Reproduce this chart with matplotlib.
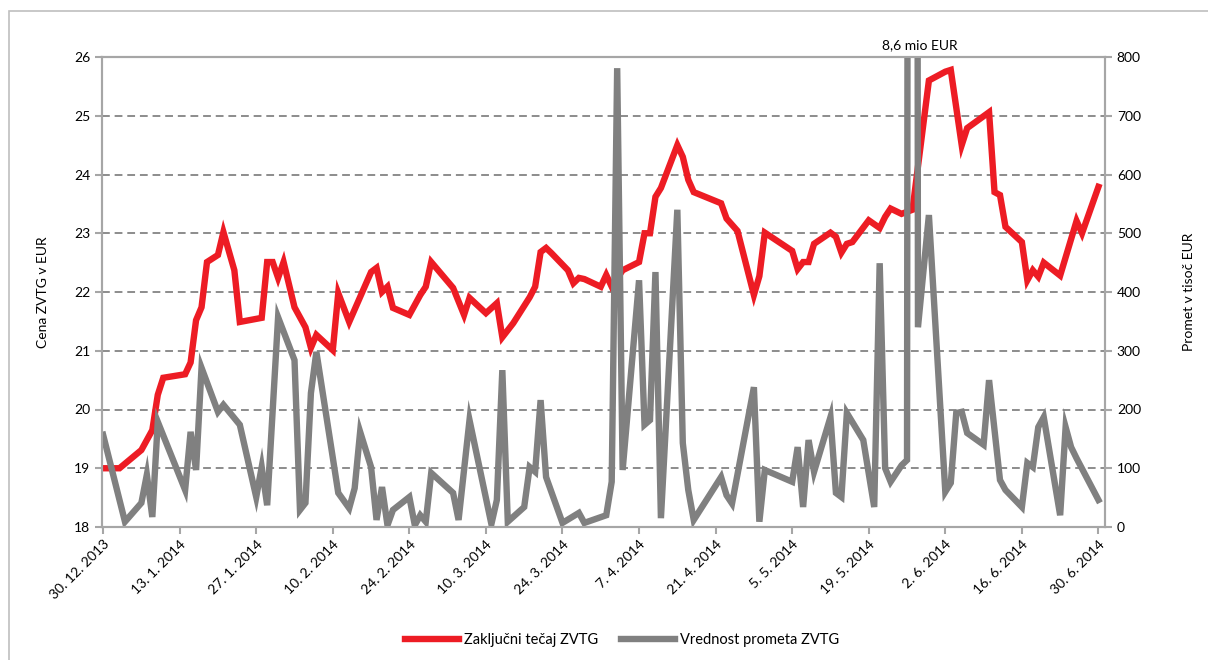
import matplotlib
matplotlib.use("Agg")
import matplotlib.pyplot as plt
from matplotlib.patches import Rectangle
import pandas as pd

plt.rcParams['font.family'] = ['Lato', 'DejaVu Sans']
plt.rcParams['font.size'] = 10

# closing price (EUR)
price_dates = [
    '2013-12-30', '2014-01-02', '2014-01-06', '2014-01-08', '2014-01-09', '2014-01-10',
    '2014-01-14', '2014-01-15', '2014-01-16', '2014-01-17', '2014-01-18', '2014-01-20',
    '2014-01-21', '2014-01-23', '2014-01-24', '2014-01-28', '2014-01-29', '2014-01-30',
    '2014-01-31', '2014-02-01', '2014-02-03', '2014-02-04', '2014-02-05', '2014-02-06',
    '2014-02-07', '2014-02-10', '2014-02-11', '2014-02-13', '2014-02-17', '2014-02-18',
    '2014-02-19', '2014-02-20', '2014-02-21', '2014-02-24', '2014-02-26', '2014-02-27',
    '2014-02-28', '2014-03-04', '2014-03-06', '2014-03-07', '2014-03-10', '2014-03-12',
    '2014-03-13', '2014-03-15', '2014-03-18', '2014-03-19', '2014-03-20', '2014-03-21',
    '2014-03-22', '2014-03-25', '2014-03-26', '2014-03-27', '2014-03-28', '2014-03-31',
    '2014-04-01', '2014-04-02', '2014-04-04', '2014-04-07', '2014-04-08', '2014-04-09',
    '2014-04-10', '2014-04-11', '2014-04-14', '2014-04-15', '2014-04-16', '2014-04-17',
    '2014-04-22', '2014-04-23', '2014-04-25', '2014-04-28', '2014-04-29', '2014-04-30',
    '2014-05-05', '2014-05-06', '2014-05-07', '2014-05-08', '2014-05-09', '2014-05-12',
    '2014-05-13', '2014-05-14', '2014-05-15', '2014-05-16', '2014-05-19', '2014-05-21',
    '2014-05-22', '2014-05-23', '2014-05-25', '2014-05-27', '2014-05-30', '2014-06-02',
    '2014-06-03', '2014-06-05', '2014-06-06', '2014-06-10', '2014-06-11', '2014-06-12',
    '2014-06-13', '2014-06-16', '2014-06-17', '2014-06-18', '2014-06-19', '2014-06-20',
    '2014-06-23', '2014-06-26', '2014-06-27', '2014-06-30',
]
price = [
    19.00, 19.00, 19.31, 19.65, 20.25, 20.54,
    20.60, 20.80, 21.52, 21.74, 22.51, 22.63,
    23.02, 22.37, 21.49, 21.56, 22.51, 22.51,
    22.24, 22.51, 21.74, 21.57, 21.40, 21.05,
    21.27, 21.01, 21.98, 21.49, 22.34, 22.41,
    22.00, 22.09, 21.73, 21.61, 21.95, 22.09,
    22.51, 22.07, 21.61, 21.90, 21.64, 21.81,
    21.23, 21.47, 21.91, 22.09, 22.68, 22.75,
    22.66, 22.37, 22.15, 22.24, 22.22, 22.09,
    22.29, 22.09, 22.37, 22.51, 23.00, 23.00,
    23.62, 23.77, 24.50, 24.30, 23.91, 23.70,
    23.51, 23.25, 23.04, 21.95, 22.27, 23.01,
    22.70, 22.39, 22.51, 22.51, 22.82, 23.01,
    22.94, 22.67, 22.82, 22.85, 23.22, 23.09,
    23.28, 23.42, 23.33, 23.40, 25.60, 25.75,
    25.78, 24.50, 24.79, 25.06, 23.70, 23.65,
    23.11, 22.85, 22.20, 22.37, 22.26, 22.50,
    22.28, 23.21, 23.00, 23.79,
]

# turnover (thousand EUR)
turnover_dates = [
    '2013-12-30', '2014-01-03', '2014-01-06', '2014-01-07', '2014-01-08', '2014-01-09',
    '2014-01-14', '2014-01-15', '2014-01-16', '2014-01-17', '2014-01-20', '2014-01-21',
    '2014-01-24', '2014-01-27', '2014-01-28', '2014-01-29', '2014-01-31', '2014-02-03',
    '2014-02-04', '2014-02-05', '2014-02-06', '2014-02-07', '2014-02-11', '2014-02-13',
    '2014-02-14', '2014-02-15', '2014-02-17', '2014-02-18', '2014-02-19', '2014-02-20',
    '2014-02-21', '2014-02-24', '2014-02-25', '2014-02-26', '2014-02-27', '2014-02-28',
    '2014-03-04', '2014-03-05', '2014-03-07', '2014-03-11', '2014-03-12', '2014-03-13',
    '2014-03-14', '2014-03-17', '2014-03-18', '2014-03-19', '2014-03-20', '2014-03-21',
    '2014-03-24', '2014-03-27', '2014-03-28', '2014-04-01', '2014-04-02', '2014-04-03',
    '2014-04-04', '2014-04-07', '2014-04-08', '2014-04-09', '2014-04-10', '2014-04-11',
    '2014-04-14', '2014-04-15', '2014-04-16', '2014-04-17', '2014-04-22', '2014-04-23',
    '2014-04-24', '2014-04-28', '2014-04-29', '2014-04-30', '2014-05-05', '2014-05-06',
    '2014-05-07', '2014-05-08', '2014-05-09', '2014-05-12', '2014-05-13', '2014-05-14',
    '2014-05-15', '2014-05-18', '2014-05-20', '2014-05-21', '2014-05-22', '2014-05-23',
    '2014-05-25', '2014-05-26', '2014-05-27', '2014-05-28', '2014-05-30', '2014-06-02',
    '2014-06-03', '2014-06-04', '2014-06-05', '2014-06-06', '2014-06-09', '2014-06-10',
    '2014-06-12', '2014-06-13', '2014-06-16', '2014-06-17', '2014-06-18', '2014-06-19',
    '2014-06-20', '2014-06-23', '2014-06-24', '2014-06-25', '2014-06-26', '2014-06-30',
]
turnover = [
    157, 9, 41, 89, 17, 179,
    63, 162, 97, 271, 196, 208,
    174, 51, 102, 37, 357, 284,
    29, 41, 228, 298, 58, 32,
    66, 162, 102, 12, 68, 3,
    29, 51, 3, 20, 9, 92,
    58, 12, 182, 5, 46, 267,
    9, 34, 102, 94, 216, 85,
    7, 24, 7, 20, 77, 781,
    97, 420, 174, 182, 434, 15,
    540, 143, 63, 12, 85, 54,
    40, 238, 9, 97, 77, 136,
    34, 148, 94, 187, 58, 51,
    194, 148, 34, 449, 100, 77,
    105, 114, 8600, 340, 531, 60,
    75, 194, 196, 160, 140, 250,
    80, 63, 34, 109, 102, 170,
    187, 20, 170, 136, 117, 46,
]

tick_dates = ['2013-12-30', '2014-01-13', '2014-01-27', '2014-02-10', '2014-02-24',
              '2014-03-10', '2014-03-24', '2014-04-07', '2014-04-21', '2014-05-05',
              '2014-05-19', '2014-06-02', '2014-06-16', '2014-06-30']

RED = '#ED1C24'
GRAY = '#808080'
AXC = '#A6A6A6'

fig = plt.figure(figsize=(12.08, 6.6), dpi=100)
# outer chart border (only left and top edges are inside the picture)
fig.patches.append(Rectangle((9 / 1208, -0.1), 1.2, (660 - 11) / 660 + 0.1, transform=fig.transFigure,
                             fill=False, edgecolor='#BFBFBF', lw=1.2))

ax = fig.add_axes([102 / 1208, 1 - 527 / 660, 1003 / 1208, 470 / 660])
ax2 = ax.twinx()

pd_price = pd.to_datetime(price_dates)
pd_turn = pd.to_datetime(turnover_dates)

ax.plot(pd_price, price, color=RED, lw=4.6, solid_joinstyle='miter', label='Zaključni tečaj ZVTG')
ax2.plot(pd_turn, turnover, color=GRAY, lw=4.6, solid_joinstyle='miter', label='Vrednost prometa ZVTG')

ax.set_ylim(18, 26)
ax2.set_ylim(0, 800)
ax.set_yticks(range(18, 27))
ax2.set_yticks(range(0, 801, 100))
ax.yaxis.grid(True, color='#8C8C8C', lw=1.4, linestyle=(0, (4, 2.5)))
ax.set_axisbelow(True)

start = pd.Timestamp('2013-12-30')
ax.set_xlim(start - pd.Timedelta(days=0.2), start + pd.Timedelta(days=183.2))
ticks = pd.to_datetime(tick_dates)
ax.set_xticks(ticks)
ax.set_xticklabels([f"{d.day}. {d.month}. {d.year}" for d in ticks], rotation=45,
                   ha='right', rotation_mode='anchor')

for a in (ax, ax2):
    for s in a.spines.values():
        s.set_color(AXC)
        s.set_linewidth(1.5)
    a.tick_params(colors=AXC, labelcolor='black', labelsize=10, width=1.5, length=5)
ax.spines['top'].set_color('#A0A0A0')
ax.tick_params(axis='x', pad=3)

ax.set_ylabel('Cena ZVTG v EUR', fontsize=10, labelpad=18)
ax2.set_ylabel('Promet v tisoč EUR', fontsize=10, labelpad=30)

ax2.text(0.815, 1.012, '8,6 mio EUR', transform=ax2.transAxes, ha='center', va='bottom', fontsize=10)

h1, l1 = ax.get_legend_handles_labels()
h2, l2 = ax2.get_legend_handles_labels()
fig.legend(h1 + h2, l1 + l2, loc='center', bbox_to_anchor=(622 / 1208, 1 - 640 / 660), ncol=2,
           frameon=False, fontsize=10.5, handlelength=3.7, columnspacing=1.6, handletextpad=0.3)

fig.savefig('out.png', dpi=100)
